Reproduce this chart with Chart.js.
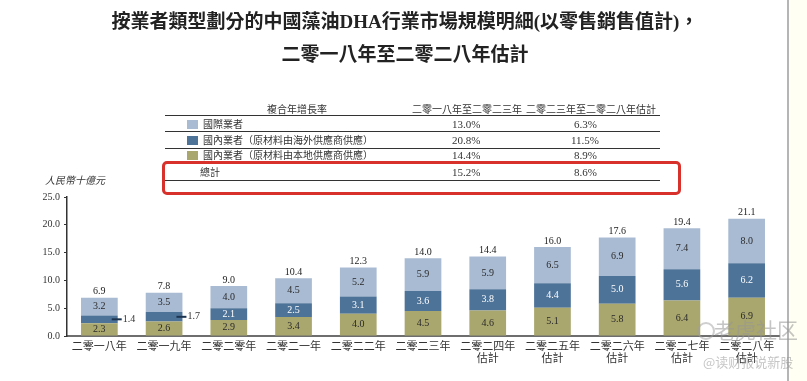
<!DOCTYPE html>
<html>
<head>
<meta charset="utf-8">
<script src="https://cdn.jsdelivr.net/npm/chart.js@4.4.1/dist/chart.umd.min.js"></script>
<style>
  html, body { margin: 0; padding: 0; background: #ffffff; }
  #wrap { position: relative; width: 807px; height: 381px; overflow: hidden; background: #ffffff; }
  #chart { position: absolute; left: 0; top: 0; }
  .t { position: absolute; white-space: nowrap; color: #2b2b2b; line-height: 1; }
  .cjk { font-family: "Liberation Serif", "Noto Sans CJK TC", serif; }
  .title { font-weight: bold; font-size: 19px; left: 0; width: 810px; text-align: center; color: #222; }
  .tb { font-size: 10px; font-family: "Noto Sans CJK TC", sans-serif; color: #333; }
  .num { font-size: 11px; font-family: "Liberation Serif", serif; color: #333; }
  .hl { position: absolute; height: 1px; background: #333; left: 165px; width: 495px; }
  .sw { position: absolute; width: 11px; height: 9px; left: 187px; }
  #redbox { position: absolute; left: 162px; top: 161px; width: 513px; height: 28px; border: 3px solid #d8302a; border-radius: 5px; }
  #edge { position: absolute; left: 787px; top: 0; width: 2px; height: 381px; background: #b5b5b5; }
  #cream { position: absolute; left: 789px; top: 0; width: 18px; height: 381px; background: #fffff3; }
  .wm { position: absolute; font-family: "Noto Sans CJK SC", sans-serif; color: rgba(150,150,150,0.55); white-space: nowrap; line-height: 1; }
</style>
</head>
<body>
<div id="wrap">
  <canvas id="chart" width="807" height="381"></canvas>

  <div class="t title cjk" style="top:12px;">按業者類型劃分的中國藻油DHA行業市場規模明細(以零售銷售值計)，</div>
  <div class="t title cjk" style="top:45px;">二零一八年至二零二八年估計</div>

  <div class="t tb" style="left:267px; top:104px;">複合年增長率</div>
  <div class="t tb" style="left:412px; top:104px;">二零一八年至二零二三年</div>
  <div class="t tb" style="left:526px; top:104px;">二零二三年至二零二八年估計</div>
  <div class="hl" style="top:115px;"></div>

  <div class="sw" style="top:120px; background:#a9bbd3;"></div>
  <div class="t tb" style="left:203px; top:119px;">國際業者</div>
  <div class="t num" style="left:452px; top:119px;">13.0%</div>
  <div class="t num" style="left:574px; top:119px;">6.3%</div>
  <div class="hl" style="top:131px;"></div>

  <div class="sw" style="top:136px; background:#4d7399;"></div>
  <div class="t tb" style="left:203px; top:135px;">國內業者（原材料由海外供應商供應）</div>
  <div class="t num" style="left:452px; top:135px;">20.8%</div>
  <div class="t num" style="left:571px; top:135px;">11.5%</div>
  <div class="hl" style="top:148px;"></div>

  <div class="sw" style="top:151px; background:#aaa76e;"></div>
  <div class="t tb" style="left:203px; top:150px;">國內業者（原材料由本地供應商供應）</div>
  <div class="t num" style="left:452px; top:150px;">14.4%</div>
  <div class="t num" style="left:574px; top:150px;">8.9%</div>

  <div class="t tb" style="left:200px; top:167px;">總計</div>
  <div class="t num" style="left:452px; top:167px;">15.2%</div>
  <div class="t num" style="left:574px; top:167px;">8.6%</div>
  <div class="hl" style="top:180px;"></div>
  <div id="redbox"></div>

  <div class="t tb" style="left:45px; top:175px; font-style:italic; font-size:10px;">人民幣十億元</div>

  <div id="edge"></div>
  <div id="cream"></div>

  <div class="wm" style="left:697px; top:322px; width:14px; height:14px; border:2px solid rgba(160,160,160,0.5); border-radius:50%;"></div>
  <div class="wm" style="left:714px; top:319px; font-size:21px;">老虎社区</div>
  <div class="wm" style="left:703px; top:355px; font-size:13px;">@读财报说新股</div>
</div>

<script>
const categories = [
  "二零一八年", "二零一九年", "二零二零年", "二零二一年", "二零二二年", "二零二三年",
  ["二零二四年", "估計"], ["二零二五年", "估計"], ["二零二六年", "估計"], ["二零二七年", "估計"], ["二零二八年", "估計"]
];
const domesticLocal    = [2.3, 2.6, 2.9, 3.4, 4.0, 4.5, 4.6, 5.1, 5.8, 6.4, 6.9];
const domesticOverseas = [1.4, 1.7, 2.1, 2.5, 3.1, 3.6, 3.8, 4.4, 5.0, 5.6, 6.2];
const international    = [3.2, 3.5, 4.0, 4.5, 5.2, 5.9, 5.9, 6.5, 6.9, 7.4, 8.0];
const totals           = [6.9, 7.8, 9.0, 10.4, 12.3, 14.0, 14.4, 16.0, 17.6, 19.4, 21.1];
const yTicks           = [0, 5, 10, 15, 20, 25];

const COLORS = { local: "#aaa76e", overseas: "#4d7399", intl: "#a9bbd3" };

const labelPlugin = {
  id: "segLabels",
  afterDatasetsDraw(chart) {
    const ctx = chart.ctx;
    ctx.save();
    ctx.font = "10px 'Liberation Serif', serif";
    ctx.textAlign = "center";
    ctx.textBaseline = "middle";
    chart.data.datasets.forEach((ds, di) => {
      const meta = chart.getDatasetMeta(di);
      meta.data.forEach((bar, i) => {
        const v = ds.data[i];
        const yMid = (bar.y + bar.base) / 2;
        const txt = v.toFixed(1);
        if (di === 1 && (bar.base - bar.y) < 11) {
          const right = bar.x + bar.width / 2;
          ctx.strokeStyle = "#1d3450";
          ctx.lineWidth = 2;
          ctx.beginPath();
          ctx.moveTo(right - 6, yMid);
          ctx.lineTo(right + 4, yMid);
          ctx.stroke();
          ctx.fillStyle = "#333";
          ctx.textAlign = "left";
          ctx.fillText(txt, right + 5, yMid);
          ctx.textAlign = "center";
        } else {
          ctx.fillStyle = di === 1 ? "#ffffff" : "#2a2a2a";
          ctx.fillText(txt, bar.x, yMid);
        }
      });
    });
    const topMeta = chart.getDatasetMeta(chart.data.datasets.length - 1);
    ctx.fillStyle = "#222";
    ctx.textBaseline = "bottom";
    topMeta.data.forEach((bar, i) => {
      ctx.fillText(totals[i].toFixed(1), bar.x, bar.y - 1);
    });
    ctx.restore();
  }
};

new Chart(document.getElementById("chart"), {
  type: "bar",
  data: {
    labels: categories,
    datasets: [
      { label: "國內業者（原材料由本地供應商供應）", data: domesticLocal, backgroundColor: COLORS.local },
      { label: "國內業者（原材料由海外供應商供應）", data: domesticOverseas, backgroundColor: COLORS.overseas },
      { label: "國際業者", data: international, backgroundColor: COLORS.intl }
    ]
  },
  options: {
    responsive: false,
    animation: false,
    devicePixelRatio: 1,
    layout: { padding: { top: 197, right: 28, left: 0, bottom: 0 } },
    datasets: { bar: { barPercentage: 0.567, categoryPercentage: 1.0, borderWidth: 0 } },
    plugins: { legend: { display: false }, title: { display: false }, tooltip: { enabled: false } },
    scales: {
      x: {
        stacked: true,
        offset: true,
        grid: { display: false, drawTicks: false },
        border: { display: true, color: "#6e6e6e", width: 2 },
        ticks: {
          color: "#333",
          padding: 4,
          maxRotation: 0,
          autoSkip: false,
          font: { family: "'Noto Sans CJK TC', sans-serif", size: 11, lineHeight: 1.1 }
        },
        afterFit(scale) { scale.height = 45; }
      },
      y: {
        stacked: true,
        min: 0,
        max: 25,
        afterBuildTicks(scale) { scale.ticks = yTicks.map(v => ({ value: v })); },
        grid: { display: true, drawOnChartArea: false, drawTicks: true, tickLength: 3, color: "#333" },
        border: { display: true, color: "#333", width: 1.5 },
        ticks: {
          color: "#333",
          padding: 4,
          font: { family: "'Liberation Serif', serif", size: 10 },
          callback: (v) => Number(v).toFixed(1)
        },
        afterFit(scale) { scale.width = 67; }
      }
    }
  },
  plugins: [labelPlugin]
});
</script>
</body>
</html>
